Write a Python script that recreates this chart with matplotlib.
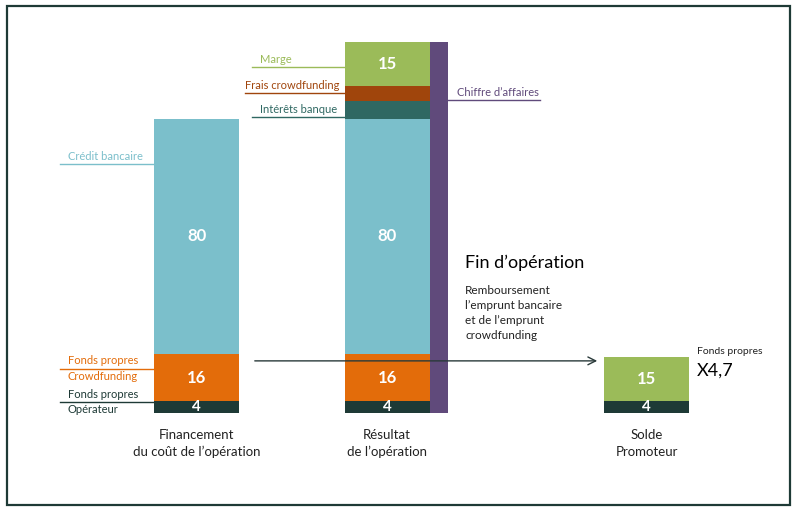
import matplotlib
matplotlib.use("Agg")
from matplotlib import pyplot as plt
from matplotlib.patches import Rectangle

plt.rcParams['font.family'] = ['Lato', 'DejaVu Sans']

# data
categories = ["Financement\ndu coût de l\u2019opération", "Résultat\nde l\u2019opération", "Solde\nPromoteur"]
fp_operateur = [4, 4, 4]
fp_crowd = [16, 16, 0]
credit = [80, 80, 0]
interets = [0, 6, 0]
frais = [0, 5, 0]
marge = [0, 15, 15]
chiffre_affaires = 126

c_blue = "#7BBFCB"
c_orange = "#E36C0A"
c_dark = "#1E3A36"
c_teal = "#2F6862"
c_brown = "#A0450C"
c_green = "#9BBB59"
c_purple = "#604A7B"


def main():
    fig = plt.figure(figsize=(8, 5.11), dpi=100)
    ax = fig.add_axes([0, 0, 1, 1])
    ax.set_xlim(0, 800)
    ax.set_ylim(-33.3, 140.3)
    ax.axis('off')

    xs = [196.5, 387, 646.5]
    w = 85

    # barres empilees
    bottom = [0, 0, 0]
    for vals, col in [(fp_operateur, c_dark), (fp_crowd, c_orange), (credit, c_blue),
                      (interets, c_teal), (frais, c_brown), (marge, c_green)]:
        ax.bar(xs, vals, width=w, bottom=bottom, color=col, edgecolor='none')
        for i in range(3):
            if vals[i] >= 4 and col not in (c_teal, c_brown):
                ax.text(xs[i], bottom[i] + vals[i] / 2, str(vals[i]), color='white',
                        fontsize=12 if vals[i] > 4 else 11, fontweight='bold',
                        ha='center', va='center')
        bottom = [b + v for b, v in zip(bottom, vals)]

    # chiffre d'affaires
    ax.bar(xs[1] + w / 2 + 9, chiffre_affaires, width=18, color=c_purple, edgecolor='none')

    for x, lab in zip(xs, categories):
        ax.text(x, -5.5, lab, ha='center', va='top', fontsize=9.5, color='#222222',
                linespacing=1.45)

    def leader(x0, x1, y, text, col, tx, below=None):
        ax.plot([x0, x1], [y, y], color=col, lw=1)
        ax.text(tx, y + 0.8, text, color=col, fontsize=8, ha='left', va='bottom')
        if below:
            ax.text(tx, y - 0.8, below, color=col, fontsize=8, ha='left', va='top')

    left1 = xs[0] - w / 2
    left2 = xs[1] - w / 2
    leader(60, left1, 84.5, "Crédit bancaire", c_blue, 68)
    leader(60, left1, 15, "Fonds propres", c_orange, 68, "Crowdfunding")
    leader(60, left1, 3.7, "Fonds propres", c_dark, 68, "Opérateur")
    leader(252, left2, 117.5, "Marge", c_green, 260)
    leader(245, left2, 108.7, "Frais crowdfunding", c_brown, 245)
    leader(252, left2, 100.5, "Intérêts banque", c_teal, 260)
    leader(447, 540, 106.3, "Chiffre d\u2019affaires", c_purple, 457)

    ax.annotate("", xy=(600, 17.7), xytext=(252, 17.7),
                arrowprops=dict(arrowstyle='->', color='#2a3a3a', lw=1,
                                mutation_scale=14))

    ax.text(465, 51, "Fin d\u2019opération", fontsize=13, color='black', ha='left', va='center')
    ax.text(465, 43.5, "Remboursement\nl\u2019emprunt bancaire\net de l\u2019emprunt\ncrowdfunding",
            fontsize=8.5, color='#222222', ha='left', va='top', linespacing=1.45)

    ax.text(697, 21, "Fonds propres", fontsize=7.5, color='#222222', ha='left', va='center')
    ax.text(697, 14.5, "X4,7", fontsize=13, color='black', ha='left', va='center')

    # cadre
    ax.add_patch(Rectangle((7 / 800, 6 / 511), 783 / 800, 499 / 511, transform=ax.transAxes,
                           fill=False, edgecolor=c_dark, lw=1.6))

    plt.savefig("out.png", dpi=100)
    plt.close()


if __name__ == "__main__":
    main()
